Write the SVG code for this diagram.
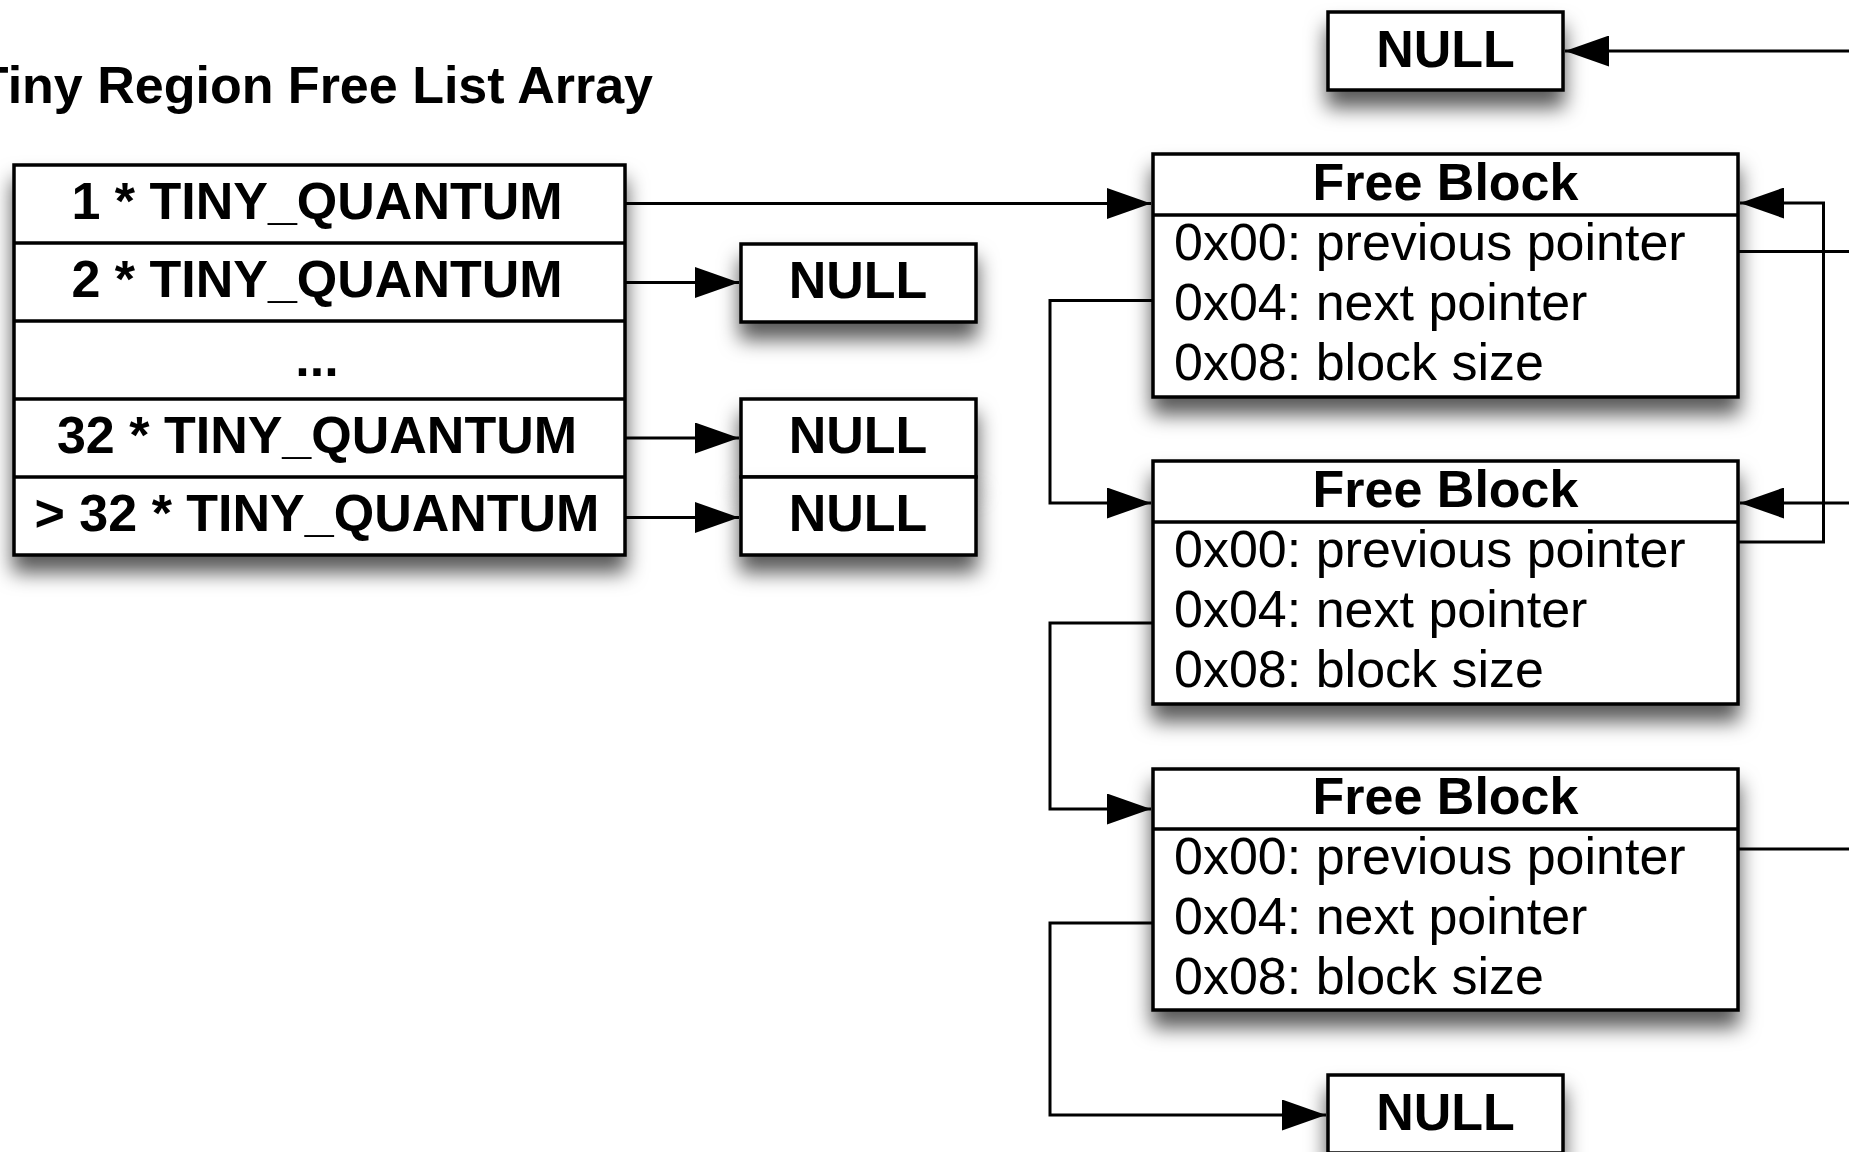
<svg xmlns="http://www.w3.org/2000/svg" width="1849" height="1152" viewBox="0 0 1849 1152">
<style>
.box{fill:#fff;stroke:#000;stroke-width:3.5}
.div{stroke:#000;stroke-width:3.5}
.b{font-family:"Liberation Sans",Arial,Helvetica,sans-serif;font-weight:bold;font-size:52px;fill:#000}
.r{font-family:"Liberation Sans",Arial,Helvetica,sans-serif;font-size:52px;fill:#000}
.c{text-anchor:middle}
.ln{fill:none;stroke:#000;stroke-width:3}
</style>
<defs>
<filter id="sh" x="-20%" y="-40%" width="140%" height="200%">
<feDropShadow dx="0" dy="16" stdDeviation="10" flood-color="#000" flood-opacity="0.65"/>
</filter>
<marker id="ah" viewBox="0 0 44 31" refX="44" refY="15.5" markerWidth="44" markerHeight="31" markerUnits="userSpaceOnUse" orient="auto">
<path d="M0,0 L44,15.5 L0,31 Z" fill="#000"/>
</marker>
</defs>
<rect width="1849" height="1152" fill="#fff"/>
<text class="b" x="653" y="103" text-anchor="end" font-size="53">Tiny Region Free List Array</text>

<g id="free-list-array">
<rect class="box" x="14" y="165" width="611" height="390" filter="url(#sh)"/>
<line class="div" x1="14" y1="243" x2="625" y2="243"/>
<line class="div" x1="14" y1="321" x2="625" y2="321"/>
<line class="div" x1="14" y1="399" x2="625" y2="399"/>
<line class="div" x1="14" y1="477" x2="625" y2="477"/>
<text class="b c" x="317" y="219">1 * TINY_QUANTUM</text>
<text class="b c" x="317" y="297">2 * TINY_QUANTUM</text>
<text class="b c" x="317" y="376">...</text>
<text class="b c" x="317" y="453">32 * TINY_QUANTUM</text>
<text class="b c" x="317" y="531">&gt; 32 * TINY_QUANTUM</text>
</g>

<g id="null-2">
<rect class="box" x="741" y="244" width="235" height="78" filter="url(#sh)"/>
<text class="b c" x="858" y="298">NULL</text>
</g>
<g id="null-32">
<rect class="box" x="741" y="399" width="235" height="78" filter="url(#sh)"/>
<text class="b c" x="858" y="453">NULL</text>
</g>
<g id="null-gt32">
<rect class="box" x="741" y="477" width="235" height="78" filter="url(#sh)"/>
<text class="b c" x="858" y="531">NULL</text>
</g>

<g id="null-top">
<rect class="box" x="1328" y="12" width="235" height="78" filter="url(#sh)"/>
<text class="b c" x="1445.5" y="67">NULL</text>
</g>

<g id="free-block-1">
<rect class="box" x="1153" y="154" width="585" height="243" filter="url(#sh)"/>
<line class="div" x1="1153" y1="215" x2="1738" y2="215"/>
<text class="b c" x="1445.5" y="200">Free Block</text>
<text class="r" x="1174" y="260">0x00: previous pointer</text>
<text class="r" x="1174" y="320">0x04: next pointer</text>
<text class="r" x="1174" y="380">0x08: block size</text>
</g>

<g id="free-block-2">
<rect class="box" x="1153" y="461" width="585" height="243" filter="url(#sh)"/>
<line class="div" x1="1153" y1="522" x2="1738" y2="522"/>
<text class="b c" x="1445.5" y="507">Free Block</text>
<text class="r" x="1174" y="567">0x00: previous pointer</text>
<text class="r" x="1174" y="627">0x04: next pointer</text>
<text class="r" x="1174" y="687">0x08: block size</text>
</g>

<g id="free-block-3">
<rect class="box" x="1153" y="769" width="585" height="241" filter="url(#sh)"/>
<line class="div" x1="1153" y1="829" x2="1738" y2="829"/>
<text class="b c" x="1445.5" y="814">Free Block</text>
<text class="r" x="1174" y="874">0x00: previous pointer</text>
<text class="r" x="1174" y="934">0x04: next pointer</text>
<text class="r" x="1174" y="994">0x08: block size</text>
</g>

<g id="null-bottom">
<rect class="box" x="1328" y="1075" width="235" height="78" filter="url(#sh)"/>
<text class="b c" x="1445.5" y="1130">NULL</text>
</g>

<g id="connectors">
<path class="ln" d="M625,203.5 L1151,203.5" marker-end="url(#ah)"/>
<path class="ln" d="M625,282.5 L739,282.5" marker-end="url(#ah)"/>
<path class="ln" d="M625,438 L739,438" marker-end="url(#ah)"/>
<path class="ln" d="M625,517.5 L739,517.5" marker-end="url(#ah)"/>
<path class="ln" d="M1849,51 L1565,51" marker-end="url(#ah)"/>
<path class="ln" d="M1738,251.5 L1849,251.5"/>
<path class="ln" d="M1739,542 L1823.5,542 L1823.5,203 L1740,203" marker-end="url(#ah)"/>
<path class="ln" d="M1849,503 L1740,503" marker-end="url(#ah)"/>
<path class="ln" d="M1738,849 L1849,849"/>
<path class="ln" d="M1153,300.5 L1050,300.5 L1050,503 L1151,503" marker-end="url(#ah)"/>
<path class="ln" d="M1153,623 L1050,623 L1050,809 L1151,809" marker-end="url(#ah)"/>
<path class="ln" d="M1153,923 L1050,923 L1050,1115 L1326,1115" marker-end="url(#ah)"/>
</g>
</svg>
